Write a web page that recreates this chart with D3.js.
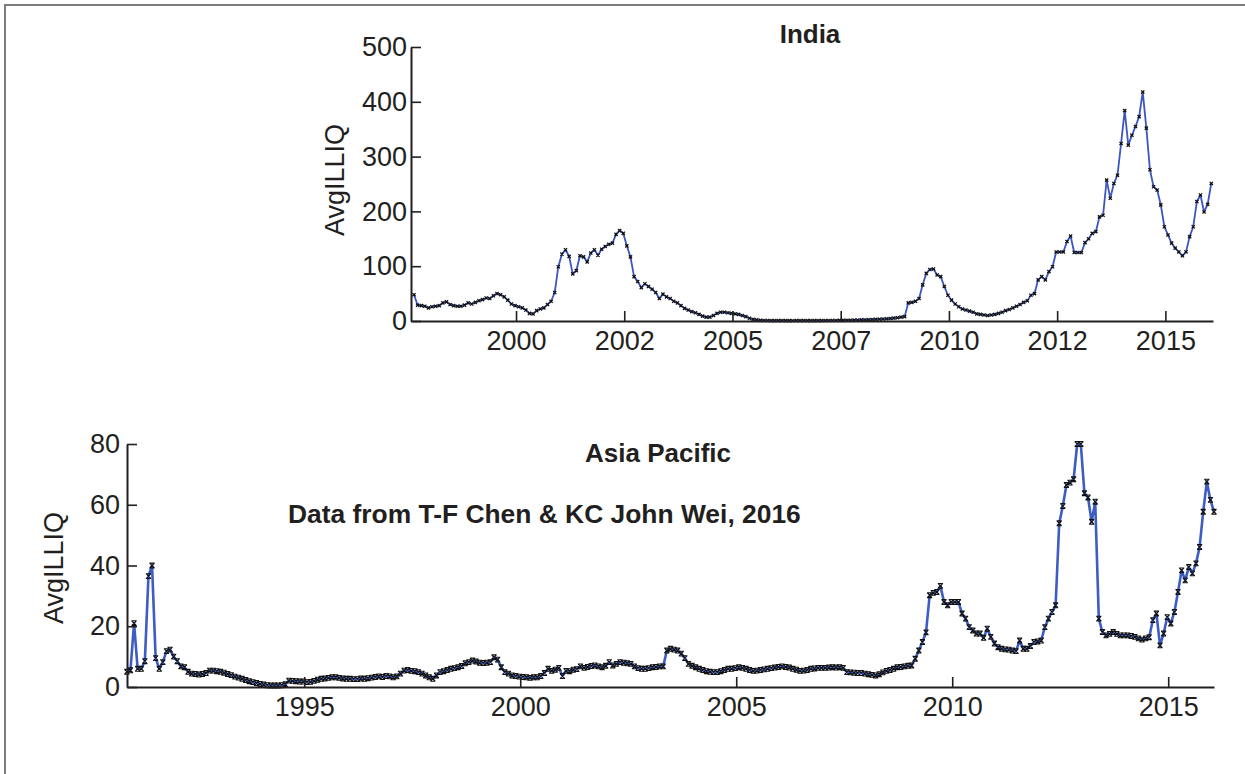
<!DOCTYPE html>
<html><head><meta charset="utf-8">
<script src="https://cdn.jsdelivr.net/npm/d3@7"></script>
<style>
html,body{margin:0;padding:0;background:#fff;}
svg{display:block;}
text{font-family:"Liberation Sans",Arial,Helvetica,sans-serif;fill:#231f20;}
</style></head><body>
<svg id="chart" width="1245" height="774"></svg>
<script>
// ---------- DATA ----------
// India: monthly AvgILLIQ, Aug 1997 .. Jan 2016
const indiaStart = [1997, 8];
const indiaValues = [
  48, 29, 28, 27, 24,
  26, 27, 28, 33, 35, 30, 28, 27, 27, 29, 33, 31,
  34, 37, 39, 42, 41, 46, 50, 48, 44, 38, 31, 28,
  26, 24, 20, 14, 13, 19, 22, 24, 30, 36, 52, 99,
  122, 130, 118, 86, 92, 119, 117, 108, 124, 130, 120, 131,
  136, 140, 142, 158, 165, 160, 137, 117, 81, 72, 61, 68,
  63, 58, 52, 41, 49, 44, 41, 36, 33, 28, 23, 20,
  17, 15, 12, 9, 7, 7, 10, 14, 16, 16, 15, 14,
  13, 12, 10, 8, 5, 3, 2, 1.2, 1, 0.8, 0.7, 0.7,
  0.6, 0.6, 0.7, 0.6, 0.5, 0.6, 0.6, 0.7, 0.6, 0.6, 0.7, 0.7,
  0.7, 0.8, 0.8, 0.9, 1.0, 1.1, 1.2, 1.3, 1.4, 1.6, 1.8, 2.0,
  2.2, 2.4, 2.7, 3.0, 3.3, 3.6, 4.0, 4.6, 5.2, 6.0, 7.0, 8.0,
  33, 34, 36, 41, 66, 87, 94, 95, 84, 81, 63, 47,
  38, 31, 26, 22, 20, 18, 16, 13, 12, 11, 10, 11,
  12, 14, 16, 19, 21, 24, 27, 30, 34, 37, 47, 50,
  75, 81, 75, 90, 99, 126, 126, 126, 145, 155, 125, 125,
  125, 143, 150, 160, 163, 190, 193, 257, 224, 251, 266, 324,
  384, 321, 339, 355, 373, 418, 352, 276, 245, 239, 212, 172,
  157, 142, 133, 126, 119, 126, 154, 172, 218, 230, 199, 213,
  251
];
// Asia Pacific: monthly AvgILLIQ, Nov 1990 .. Jan 2016
const apStart = [1990, 11];
const apValues = [
  5, 5.5,
  21, 6, 6, 8.5, 36.5, 40, 9.5, 6, 8.2, 11.8, 12.3, 10,
  8.5, 6.8, 6.5, 5.0, 4.4, 4.3, 4.1, 4.3, 4.6, 5.4, 5.4, 5.2,
  5.0, 4.7, 4.3, 3.9, 3.4, 3.1, 2.7, 2.3, 1.9, 1.6, 1.3, 1.0,
  0.8, 0.6, 0.5, 0.5, 0.5, 0.6, 0.9, 2.1, 2.0, 1.9, 1.8, 1.8,
  1.6, 1.7, 2.0, 2.4, 2.7, 2.8, 3.0, 3.2, 3.2, 3.0, 2.8, 2.7,
  2.7, 2.6, 2.6, 2.8, 2.7, 2.9, 3.1, 3.3, 3.5, 3.3, 3.6, 3.5,
  3.2, 3.5, 4.4, 5.4, 5.6, 5.3, 5.2, 4.9, 4.4, 3.8, 3.2, 2.7,
  3.8, 4.9, 5.2, 5.6, 6.0, 6.2, 6.5, 6.9, 7.8, 8.2, 8.7, 8.4,
  8.0, 7.9, 8.0, 8.2, 9.8, 9.0, 6.5, 4.9, 4.4, 3.8, 3.6, 3.4,
  3.3, 3.2, 3.0, 3.2, 3.2, 3.6, 4.6, 6.0, 5.3, 5.7, 6.3, 3.6,
  5.3, 5.2, 5.7, 5.9, 6.8, 6.3, 6.6, 6.9, 7.1, 6.8, 6.5, 7.0,
  8.2, 7.1, 7.6, 8.2, 8.0, 7.8, 7.6, 6.8, 6.2, 6.0, 6.0, 6.2,
  6.5, 6.6, 6.8, 6.8, 12, 12.6, 12.3, 12, 11, 9.5, 7.6, 7.0,
  6.5, 6.0, 5.6, 5.2, 5.0, 4.9, 4.9, 5.2, 5.6, 6.0, 6.0, 6.2,
  6.5, 6.3, 6.0, 5.6, 5.3, 5.4, 5.6, 5.8, 6.0, 6.2, 6.4, 6.6,
  6.8, 6.6, 6.4, 6.0, 5.7, 5.3, 5.4, 5.6, 6.0, 6.1, 6.3, 6.3,
  6.3, 6.4, 6.5, 6.4, 6.5, 6.3, 4.9, 4.8, 4.7, 4.6, 4.6, 4.4,
  4.2, 4.0, 3.8, 4.2, 4.8, 5.3, 5.6, 6.0, 6.5, 6.6, 6.8, 7.0,
  7.1, 9.3, 12, 14.8, 18, 30.2, 31, 31.3, 33.3, 28, 26.9, 28,
  28, 28, 24.2, 22.5, 19.7, 18.6, 17.6, 17.6, 16.2, 19.2, 16.5, 14.3,
  13.1, 12.6, 12.4, 12.3, 12.0, 11.8, 15.3, 12.6, 12.6, 13.5, 14.8, 15.0,
  15.3, 19.7, 22.5, 24.7, 26.9, 53.9, 59.6, 66.5, 67.3, 68.4, 80, 80,
  63.8, 62.4, 54.4, 61, 22.5, 18.1, 17, 17.5, 18.1, 17.5, 17, 17,
  17, 16.8, 16.5, 16, 15.6, 16, 16.4, 22, 24.2, 13.7, 17.6, 23,
  20.9, 24.7, 31.3, 38.4, 35.1, 39.5, 37.4, 40.7, 46.1, 57.7, 67.6, 61.6,
  57.7
];
const indiaYTicks = [0, 100, 200, 300, 400, 500];
const indiaXTicks = [2000, 2002.5, 2005, 2007.5, 2010, 2012.5, 2015];
const apYTicks = [0, 20, 40, 60, 80];
const apXTicks = [1995, 2000, 2005, 2010, 2015];
const indiaTitle = "India";
const apTitle = "Asia Pacific";
const sourceNote = "Data from T-F Chen & KC John Wei, 2016";
const yLabel = "AvgILLIQ";

// ---------- HELPERS ----------
const DAY_OFFSET = 22 / 365;
function toSeries(start, values) {
  return values.map((v, i) => ({ t: start[0] + (start[1] - 1 + i) / 12 + DAY_OFFSET, v }));
}
const svg = d3.select("#chart");
const ink = "#231f20";
const tickFont = "27px";

// frame
svg.append("path").attr("d", "M5,774 V5 H1245").attr("fill", "none")
  .attr("stroke", "#7d7d7d").attr("stroke-width", 2);

function panel(cfg) {
  const x = d3.scaleLinear().domain(cfg.xDomain).range(cfg.xRange);
  const y = d3.scaleLinear().domain(cfg.yDomain).range(cfg.yRange);
  const g = svg.append("g");
  const data = toSeries(cfg.start, cfg.values);

  g.append("path").datum(data)
    .attr("d", d3.line().x(d => x(d.t)).y(d => y(d.v)))
    .attr("fill", "none").attr("stroke", cfg.lineColor)
    .attr("stroke-width", cfg.lineWidth).attr("stroke-linejoin", "round");

  g.append("g").selectAll("path").data(data).join("path")
    .attr("transform", d => `translate(${x(d.t)},${y(d.v)})`)
    .attr("d", cfg.marker)
    .attr("fill", "none").attr("stroke", "#111").attr("stroke-width", cfg.markerWidth);

  const xa = g.append("g").attr("transform", `translate(0,${cfg.yRange[0]})`)
    .call(d3.axisBottom(x).tickValues(cfg.xTicks).tickFormat(d => Math.floor(d))
      .tickSizeInner(-10).tickSizeOuter(0).tickPadding(cfg.xPad));
  const ya = g.append("g").attr("transform", `translate(${cfg.xRange[0]},0)`)
    .call(d3.axisLeft(y).tickValues(cfg.yTicks)
      .tickSizeInner(-10).tickSizeOuter(0).tickPadding(cfg.yPad));
  [xa, ya].forEach(a => {
    a.select(".domain").attr("stroke", ink).attr("stroke-width", 2);
    a.selectAll(".tick line").attr("stroke", ink).attr("stroke-width", 1.6);
    a.selectAll(".tick text").style("font-size", tickFont).attr("fill", ink)
      .style("font-family", '"Liberation Sans",Arial,sans-serif');
  });

  g.append("text").attr("transform", `translate(${cfg.yLabelPos[0]},${cfg.yLabelPos[1]}) rotate(-90)`)
    .attr("text-anchor", "middle").style("font-size", "27px").text(yLabel);
  g.append("text").attr("x", cfg.titlePos[0]).attr("y", cfg.titlePos[1])
    .attr("text-anchor", "middle").style("font-size", "26px").style("font-weight", "bold")
    .text(cfg.title);
}

const markerTop = "M-1.6,-1.6L1.6,1.6M-1.6,1.6L1.6,-1.6";
const markerBottom = "M-2.6,-2.4H2.6M-2.6,2.4H2.6M-2.2,-2.2L2.2,2.2M-2.2,2.2L2.2,-2.2";

panel({
  start: indiaStart, values: indiaValues,
  xDomain: [1997.574, 2016.1], xRange: [411, 1213],
  yDomain: [0, 500], yRange: [321, 47],
  xTicks: indiaXTicks, yTicks: indiaYTicks,
  xPad: 10, yPad: 4,
  lineColor: "#3c55c2", lineWidth: 1.8,
  marker: markerTop, markerWidth: 1.3,
  yLabelPos: [344, 180], title: indiaTitle, titlePos: [810, 43]
});

panel({
  start: apStart, values: apValues,
  xDomain: [1990.897, 2016.06], xRange: [127, 1214],
  yDomain: [0, 80], yRange: [687, 444],
  xTicks: apXTicks, yTicks: apYTicks,
  xPad: 10, yPad: 7,
  lineColor: "#3d5cc4", lineWidth: 2.6,
  marker: markerBottom, markerWidth: 1.1,
  yLabelPos: [63, 568], title: apTitle, titlePos: [658, 462]
});

svg.append("text").attr("x", 288).attr("y", 523)
  .style("font-size", "26.4px").style("font-weight", "bold").text(sourceNote);
</script>
</body></html>
